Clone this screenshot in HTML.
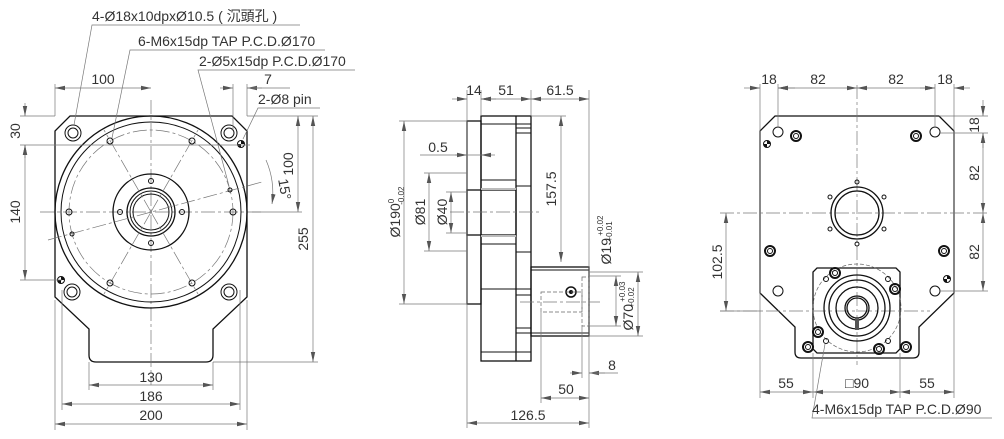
<!DOCTYPE html>
<html><head><meta charset="utf-8"><style>
html,body{margin:0;padding:0;background:#fff;}
svg{display:block;}
text{font-family:"Liberation Sans","Noto Sans CJK TC",sans-serif;font-size:14px;fill:#333;}
.o{stroke:#111;stroke-width:1.3;fill:none;}
.t{stroke:#777;stroke-width:0.7;fill:none;}
.c{stroke:#777;stroke-width:0.7;fill:none;stroke-dasharray:14 3 3 3;}
.d{stroke:#666;stroke-width:0.7;fill:none;stroke-dasharray:4 2;}
.h{stroke:#111;stroke-width:1;fill:none;}
</style></head><body>
<svg width="1004" height="439" viewBox="0 0 1004 439" xmlns="http://www.w3.org/2000/svg">
<defs>
<marker id="a" markerWidth="10" markerHeight="6" refX="10" refY="3" orient="auto-start-reverse" markerUnits="userSpaceOnUse"><path d="M0,0.8 L10,3 L0,5.2z" fill="#555"/></marker>
</defs>

<!-- ===== LEFT VIEW ===== -->
<path class="o" d="M70,116 H232 L247,131 V297 L213,329 V355 Q213,362 206,362 H96 Q89,362 89,355 V329 L55,297 V131 Z"/>
<line class="c" x1="40" y1="212" x2="262" y2="212"/>
<line class="c" x1="151" y1="100" x2="151" y2="385"/>
<circle class="o" cx="151" cy="212" r="96"/>
<circle class="h" cx="151" cy="212" r="90"/>
<circle class="c" cx="151" cy="212" r="82"/>
<circle class="o" cx="151" cy="212" r="38"/>
<circle class="o" cx="151" cy="212" r="24"/>
<circle class="h" cx="151" cy="212" r="21"/>
<circle class="h" cx="151" cy="212" r="18"/>
<g class="c">
<line x1="151" y1="212" x2="104" y2="130"/><line x1="151" y1="212" x2="198" y2="130"/>
<line x1="151" y1="212" x2="104" y2="294"/><line x1="151" y1="212" x2="198" y2="294"/>
</g>
<line class="c" x1="48" y1="240" x2="262" y2="182"/>
<g class="h">
<circle cx="233" cy="212" r="3"/><circle cx="69" cy="212" r="3"/>
<circle cx="192" cy="141" r="3"/><circle cx="110" cy="141" r="3"/>
<circle cx="192" cy="283" r="3"/><circle cx="110" cy="283" r="3"/>
<circle cx="151" cy="181" r="2.5"/><circle cx="151" cy="243" r="2.5"/>
<circle cx="120" cy="212" r="2.5"/><circle cx="182" cy="212" r="2.5"/>
<circle cx="230" cy="190" r="2"/><circle cx="72" cy="234" r="2"/>
</g>
<g class="h">
<circle cx="73" cy="133" r="8"/><circle cx="73" cy="133" r="5"/>
<circle cx="229" cy="133" r="8"/><circle cx="229" cy="133" r="5"/>
<circle cx="72" cy="292" r="8"/><circle cx="72" cy="292" r="5"/>
<circle cx="229" cy="292" r="8"/><circle cx="229" cy="292" r="5"/>
<circle cx="241" cy="144" r="3.5"/><circle cx="61" cy="280" r="3.5"/>
</g>
<path d="M241,140.5 A3.5,3.5 0 0 1 244.5,144 H241Z M241,147.5 A3.5,3.5 0 0 1 237.5,144 H241Z" fill="#111"/>
<path d="M61,276.5 A3.5,3.5 0 0 1 64.5,280 H61Z M61,283.5 A3.5,3.5 0 0 1 57.5,280 H61Z" fill="#111"/>
<!-- left dims -->
<g class="t">
<line x1="55" y1="300" x2="55" y2="430"/><line x1="247" y1="300" x2="247" y2="430"/>
<line x1="62" y1="290" x2="62" y2="410"/><line x1="240" y1="290" x2="240" y2="410"/>
<line x1="89" y1="362" x2="89" y2="390"/><line x1="213" y1="362" x2="213" y2="390"/>
<line x1="55" y1="84" x2="55" y2="116"/><line x1="233" y1="84" x2="233" y2="130"/><line x1="247" y1="84" x2="247" y2="116"/>
<line x1="213" y1="362" x2="318" y2="362"/><line x1="247" y1="116" x2="318" y2="116"/>
<line x1="20" y1="116" x2="55" y2="116"/><line x1="20" y1="145" x2="250" y2="145"/><line x1="20" y1="280" x2="62" y2="280"/>
<line x1="252" y1="212" x2="302" y2="212"/>
</g>
<g class="t" marker-start="url(#a)" marker-end="url(#a)">
<line x1="55" y1="424" x2="247" y2="424"/>
<line x1="62" y1="404" x2="240" y2="404"/>
<line x1="89" y1="385" x2="213" y2="385"/>
<line x1="55" y1="88" x2="151" y2="88"/>
<line x1="313" y1="116" x2="313" y2="362"/>
<line x1="298" y1="116" x2="298" y2="212"/>
<line x1="25" y1="145" x2="25" y2="280"/>
</g>
<g class="t" marker-end="url(#a)">
<line x1="25" y1="103" x2="25" y2="116"/><line x1="25" y1="158" x2="25" y2="145"/>
<line x1="220" y1="88" x2="233" y2="88"/><line x1="262" y1="88" x2="247" y2="88"/>
<path d="M266,160 A82,82 0 0 1 272,204"/>
</g>
<line class="t" x1="247" y1="88" x2="290" y2="88"/>
<text x="151" y="382" text-anchor="middle">130</text>
<text x="151" y="401" text-anchor="middle">186</text>
<text x="151" y="420" text-anchor="middle">200</text>
<text x="103" y="84" text-anchor="middle">100</text>
<text x="268" y="84" text-anchor="middle">7</text>
<text transform="translate(308,239) rotate(-90)" text-anchor="middle">255</text>
<text transform="translate(293,164) rotate(-90)" text-anchor="middle">100</text>
<text transform="translate(20,131) rotate(-90)" text-anchor="middle">30</text>
<text transform="translate(20,212) rotate(-90)" text-anchor="middle">140</text>
<text transform="translate(280,190) rotate(80)" text-anchor="middle">15°</text>
<!-- leaders -->
<g class="t">
<polyline points="300,25 92,25 74,125"/>
<polyline points="325,50 130,50 112,138"/>
<polyline points="355,70 198,70 229,186"/>
<polyline points="320,108 258,108 243,139"/>
</g>
<text x="92" y="21">4-Ø18x10dpxØ10.5 ( 沉頭孔 )</text>
<text x="138" y="46">6-M6x15dp TAP P.C.D.Ø170</text>
<text x="199" y="66">2-Ø5x15dp P.C.D.Ø170</text>
<text x="258" y="104">2-Ø8 pin</text>

<!-- ===== MIDDLE VIEW ===== -->
<rect class="o" x="467" y="121" width="14" height="183"/>
<rect class="o" x="481" y="116" width="50" height="245"/>
<line class="o" x1="516" y1="116" x2="516" y2="361"/>
<rect class="o" x="467" y="190" width="49" height="45"/>
<rect x="481" y="188" width="35" height="2" fill="#bbb"/>
<rect x="481" y="235" width="35" height="2" fill="#bbb"/>
<g class="h">
<line x1="481" y1="180" x2="516" y2="180"/><line x1="481" y1="244" x2="516" y2="244"/>
<line x1="481" y1="289" x2="531" y2="289"/><line x1="481" y1="352" x2="531" y2="352"/>
<line x1="481" y1="124" x2="531" y2="124"/>
<line x1="516" y1="128" x2="531" y2="128"/><line x1="516" y1="133" x2="531" y2="133"/>
<line x1="516" y1="186" x2="531" y2="186"/><line x1="516" y1="252" x2="531" y2="252"/>
<line x1="516" y1="295" x2="531" y2="295"/><line x1="516" y1="328" x2="531" y2="328"/><line x1="516" y1="333" x2="531" y2="333"/>
</g>
<rect class="o" x="531" y="267" width="58" height="69"/>
<line class="h" x1="531" y1="270" x2="589" y2="270"/><line class="h" x1="531" y1="333" x2="589" y2="333"/>
<circle cx="571" cy="292" r="5" fill="none" stroke="#111" stroke-width="1.5"/><circle cx="571" cy="292" r="2" fill="#111"/>
<rect class="d" x="582" y="277" width="7" height="49"/>
<rect class="d" x="541" y="292" width="41" height="20"/>
<line class="c" x1="450" y1="212" x2="540" y2="212"/>
<line class="c" x1="520" y1="302" x2="600" y2="302"/>
<!-- middle dims -->
<g class="t">
<line x1="467" y1="90" x2="467" y2="428"/><line x1="481" y1="90" x2="481" y2="116"/><line x1="531" y1="90" x2="531" y2="116"/><line x1="589" y1="90" x2="589" y2="428"/>
<line x1="399" y1="121" x2="467" y2="121"/><line x1="399" y1="304" x2="467" y2="304"/>
<line x1="424" y1="173" x2="467" y2="173"/><line x1="424" y1="251" x2="467" y2="251"/>
<line x1="446" y1="192" x2="467" y2="192"/><line x1="446" y1="233" x2="467" y2="233"/>
<line x1="531" y1="116" x2="566" y2="116"/>
<line x1="589" y1="276" x2="621" y2="276"/><line x1="589" y1="326" x2="621" y2="326"/>
<line x1="589" y1="272" x2="643" y2="272"/><line x1="589" y1="336" x2="643" y2="336"/>
<line x1="541" y1="312" x2="541" y2="403"/><line x1="582" y1="326" x2="582" y2="378"/>
<line x1="420" y1="155" x2="481" y2="155"/>
</g>
<g class="t" marker-start="url(#a)" marker-end="url(#a)">
<line x1="481" y1="99" x2="531" y2="99"/>
<line x1="531" y1="99" x2="589" y2="99"/>
<line x1="467" y1="423" x2="589" y2="423"/>
<line x1="541" y1="398" x2="589" y2="398"/>
<line x1="404" y1="121" x2="404" y2="304"/>
<line x1="429" y1="173" x2="429" y2="251"/>
<line x1="451" y1="192" x2="451" y2="233"/>
<line x1="561" y1="116" x2="561" y2="262"/>
<line x1="616" y1="276" x2="616" y2="326"/>
<line x1="638" y1="272" x2="638" y2="336"/>
</g>
<g class="t" marker-end="url(#a)">
<line x1="452" y1="99" x2="467" y2="99"/><line x1="496" y1="99" x2="481" y2="99"/>
<line x1="570" y1="373" x2="582" y2="373"/><line x1="605" y1="373" x2="589" y2="373"/>
<line x1="455" y1="155" x2="467" y2="155"/><line x1="495" y1="155" x2="481" y2="155"/>
</g>
<line class="t" x1="589" y1="373" x2="618" y2="373"/>
<text x="474" y="95" text-anchor="middle">14</text>
<text x="506" y="95" text-anchor="middle">51</text>
<text x="560" y="95" text-anchor="middle">61.5</text>
<text x="528" y="420" text-anchor="middle">126.5</text>
<text x="566" y="394" text-anchor="middle">50</text>
<text x="612" y="370" text-anchor="middle">8</text>
<text x="438" y="152" text-anchor="middle">0.5</text>
<text transform="translate(400,212) rotate(-90)" text-anchor="middle">Ø190<tspan font-size="8" dy="-6">0</tspan><tspan font-size="8" dx="-6" dy="10">-0.02</tspan></text>
<text transform="translate(425,212) rotate(-90)" text-anchor="middle">Ø81</text>
<text transform="translate(447,212) rotate(-90)" text-anchor="middle">Ø40</text>
<text transform="translate(556,189) rotate(-90)" text-anchor="middle">157.5</text>
<text transform="translate(611,240) rotate(-90)" text-anchor="middle">Ø19<tspan font-size="8" dy="-8"> +0.02</tspan><tspan font-size="8" dx="-26" dy="9">+0.01</tspan></text>
<text transform="translate(633,306) rotate(-90)" text-anchor="middle">Ø70<tspan font-size="8" dy="-8"> +0.03</tspan><tspan font-size="8" dx="-26" dy="9">+0.02</tspan></text>

<!-- ===== RIGHT VIEW ===== -->
<path class="o" d="M775,116 H939 L954,131 V293 L919,327 V352 Q919,358 913,358 H801 Q795,358 795,352 V327 L760,293 V131 Z"/>
<path class="o" d="M817,268 H896 L900,272 V349 L896,353 H817 L813,349 V272 Z"/>
<line class="c" x1="857" y1="85" x2="857" y2="365"/>
<line class="c" x1="720" y1="213" x2="990" y2="213"/>
<line class="c" x1="720" y1="311" x2="930" y2="311"/>
<circle class="o" cx="857" cy="213" r="26"/>
<circle class="o" cx="857" cy="213" r="22"/>
<g class="h">
<circle cx="857" cy="182" r="2"/><circle cx="857" cy="244" r="2"/>
<circle cx="830" cy="197" r="2"/><circle cx="884" cy="197" r="2"/>
<circle cx="830" cy="229" r="2"/><circle cx="884" cy="229" r="2"/>
<circle cx="778" cy="132" r="5"/><circle cx="935" cy="132" r="5"/>
<circle cx="778" cy="291" r="5"/><circle cx="935" cy="291" r="5"/>
</g>
<circle class="d" cx="857" cy="308" r="44"/>
<g class="o">
<circle cx="857" cy="308" r="33"/><circle cx="857" cy="308" r="28"/><circle cx="857" cy="308" r="21"/>
<circle cx="857" cy="308" r="12"/><circle cx="857" cy="308" r="10"/>
</g>
<rect x="855" y="318" width="4" height="12" fill="#555"/>
<g class="h">
<circle cx="826" cy="279" r="2.5"/><circle cx="888" cy="279" r="2.5"/>
<circle cx="826" cy="341" r="2.5"/><circle cx="888" cy="341" r="2.5"/>
</g>
<g fill="none" stroke="#111">
<g stroke-width="2"><circle cx="796" cy="136" r="5"/><circle cx="916" cy="136" r="5"/><circle cx="770" cy="251" r="5"/><circle cx="944" cy="251" r="5"/>
<circle cx="835" cy="273" r="5"/><circle cx="895" cy="289" r="5"/><circle cx="818" cy="332" r="5"/><circle cx="808" cy="347" r="5"/><circle cx="879" cy="349" r="5"/><circle cx="906" cy="347" r="5"/></g>
<g stroke-width="1"><circle cx="796" cy="136" r="2.5"/><circle cx="916" cy="136" r="2.5"/><circle cx="770" cy="251" r="2.5"/><circle cx="944" cy="251" r="2.5"/>
<circle cx="835" cy="273" r="2.5"/><circle cx="895" cy="289" r="2.5"/><circle cx="818" cy="332" r="2.5"/><circle cx="808" cy="347" r="2.5"/><circle cx="879" cy="349" r="2.5"/><circle cx="906" cy="347" r="2.5"/></g>
<circle cx="767" cy="144" r="3.5"/><circle cx="947" cy="279" r="3.5"/>
</g>
<path d="M767,140.5 A3.5,3.5 0 0 1 770.5,144 H767Z M767,147.5 A3.5,3.5 0 0 1 763.5,144 H767Z" fill="#111"/>
<path d="M947,275.5 A3.5,3.5 0 0 1 950.5,279 H947Z M947,282.5 A3.5,3.5 0 0 1 943.5,279 H947Z" fill="#111"/>
<!-- right dims -->
<g class="t">
<line x1="760" y1="84" x2="760" y2="398"/><line x1="954" y1="84" x2="954" y2="398"/>
<line x1="778" y1="84" x2="778" y2="127"/><line x1="935" y1="84" x2="935" y2="127"/>
<line x1="813" y1="353" x2="813" y2="398"/><line x1="900" y1="353" x2="900" y2="398"/>
<line x1="939" y1="116" x2="988" y2="116"/><line x1="940" y1="133" x2="988" y2="133"/><line x1="940" y1="291" x2="988" y2="291"/>
<line x1="720" y1="311" x2="760" y2="311"/>
</g>
<g class="t" marker-start="url(#a)" marker-end="url(#a)">
<line x1="778" y1="88" x2="857" y2="88"/>
<line x1="857" y1="88" x2="935" y2="88"/>
<line x1="983" y1="133" x2="983" y2="213"/>
<line x1="983" y1="213" x2="983" y2="291"/>
<line x1="726" y1="213" x2="726" y2="311"/>
<line x1="760" y1="392" x2="813" y2="392"/>
<line x1="813" y1="392" x2="900" y2="392"/>
<line x1="900" y1="392" x2="954" y2="392"/>
</g>
<g class="t" marker-end="url(#a)">
<line x1="744" y1="88" x2="760" y2="88"/><line x1="795" y1="88" x2="778" y2="88"/>
<line x1="920" y1="88" x2="935" y2="88"/><line x1="970" y1="88" x2="954" y2="88"/>
<line x1="983" y1="100" x2="983" y2="116"/><line x1="983" y1="148" x2="983" y2="133"/>
</g>
<text x="769" y="84" text-anchor="middle">18</text>
<text x="818" y="84" text-anchor="middle">82</text>
<text x="896" y="84" text-anchor="middle">82</text>
<text x="945" y="84" text-anchor="middle">18</text>
<text transform="translate(979,125) rotate(-90)" text-anchor="middle">18</text>
<text transform="translate(979,173) rotate(-90)" text-anchor="middle">82</text>
<text transform="translate(979,252) rotate(-90)" text-anchor="middle">82</text>
<text transform="translate(722,262) rotate(-90)" text-anchor="middle">102.5</text>
<text x="786" y="388" text-anchor="middle">55</text>
<text x="857" y="388" text-anchor="middle">□90</text>
<text x="927" y="388" text-anchor="middle">55</text>
<polyline class="t" points="992,418 812,418 825,344"/>
<text x="812" y="414">4-M6x15dp TAP P.C.D.Ø90</text>
</svg>
</body></html>
